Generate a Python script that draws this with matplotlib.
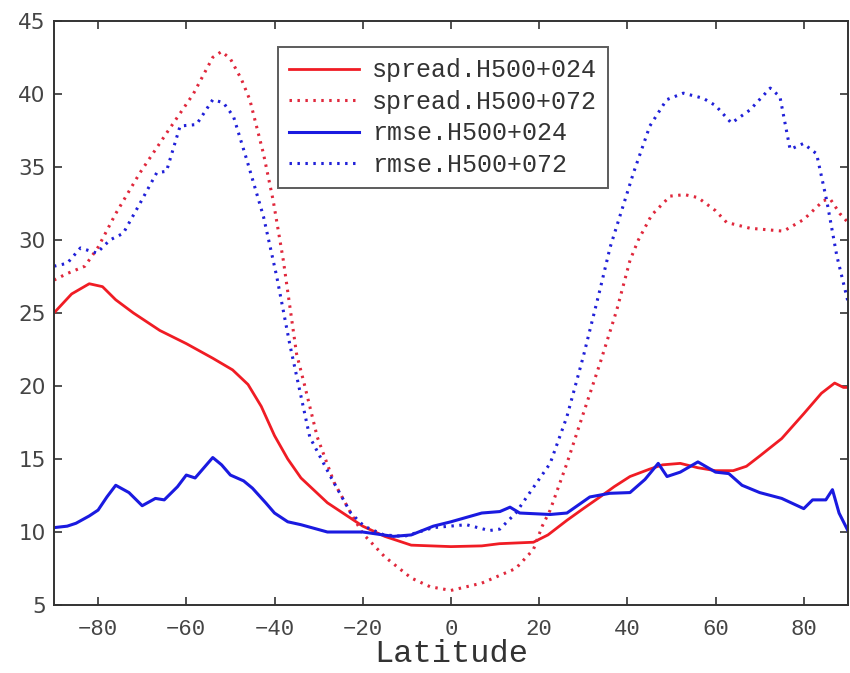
import matplotlib
matplotlib.use("Agg")
import matplotlib.pyplot as plt

# spread.H500+024 (red solid)
lat_s024 = [-90, -86, -82, -79, -76, -72, -66, -60, -54, -49.5, -46, -43, -40, -37, -34,
            -28, -20, -15, -9, 0, 7, 11, 18.7, 22, 26.3, 30, 33.8, 37, 40.6, 45, 48, 52,
            56, 60, 64, 67, 70, 75, 80, 84, 87, 89, 90]
spread024 = [25.0, 26.3, 27.0, 26.8, 25.9, 25.0, 23.8, 22.9, 21.9, 21.1, 20.1, 18.6, 16.6, 15.0, 13.7,
             12.0, 10.4, 9.7, 9.1, 9.0, 9.05, 9.2, 9.3, 9.8, 10.8, 11.6, 12.4, 13.1, 13.8, 14.3, 14.6, 14.7,
             14.4, 14.2, 14.2, 14.5, 15.2, 16.4, 18.1, 19.5, 20.2, 19.9, 19.9]

# spread.H500+072 (red dotted)
lat_s072 = [-90, -87, -83, -80, -76, -70.5, -64.5, -58.4, -54, -52, -50, -47.5, -45.6, -42.5,
            -40.3, -38, -35, -33.3, -30.3, -26.5, -22.7, -20, -15, -9, -4.7, 0, 7, 14.7,
            18.7, 20.7, 22.5, 26.3, 30, 33.8, 37.6, 40.6, 42.5, 45.5, 49.7, 53, 56, 60,
            62.5, 67.8, 75.4, 80, 84.5, 86, 88.2, 90]
spread072 = [27.25, 27.7, 28.2, 29.5, 31.8, 34.6, 37.3, 40.0, 42.5, 42.9, 42.4, 41.0, 39.6, 35.9,
             32.7, 28.6, 22.2, 20.2, 16.5, 13.4, 11.3, 9.9, 8.3, 6.85, 6.25, 6.0, 6.5, 7.5,
             8.8, 10.4, 11.5, 14.7, 18.1, 21.55, 25.2, 28.6, 30.0, 31.7, 33.0, 33.1, 32.9, 32.0,
             31.2, 30.8, 30.6, 31.4, 32.7, 32.8, 31.8, 31.2]

# rmse.H500+024 (blue solid)
lat_r024 = [-90, -87, -85, -82, -80, -78, -76, -73, -70, -67, -65, -62, -60, -58, -56, -54,
            -52, -50, -47, -45, -42, -40, -37, -34, -28, -20, -13, -9, -4, 0, 7, 11.1,
            13.4, 15.6, 22.5, 26.3, 31.5, 36, 40.6, 44, 47, 49, 52, 56, 60, 63, 66, 70,
            75, 80, 82, 85, 86.5, 88, 90]
rmse024 = [10.3, 10.4, 10.6, 11.1, 11.5, 12.4, 13.2, 12.7, 11.8, 12.3, 12.2, 13.1, 13.9, 13.7, 14.4, 15.1,
           14.6, 13.9, 13.5, 13.0, 12.0, 11.3, 10.7, 10.5, 10.0, 10.0, 9.7, 9.8, 10.4, 10.7, 11.3, 11.4,
           11.7, 11.3, 11.2, 11.3, 12.4, 12.65, 12.7, 13.6, 14.7, 13.8, 14.1, 14.8, 14.1, 14.0, 13.2, 12.7,
           12.3, 11.6, 12.2, 12.2, 12.9, 11.3, 10.1]

# rmse.H500+072 (blue dotted)
lat_r072 = [-90, -87, -84, -80.3, -77.3, -74.3, -70.5, -66.7, -64.5, -61.4, -57.7, -54, -51.6,
            -49.3, -46.3, -42.5, -39.5, -36.5, -32, -27.3, -22.7, -19.7, -15.2, -10.6, -4,
            3.5, 8.7, 11.1, 14.7, 17.2, 22.5, 26.3, 30, 33.8, 36.1, 41.4, 45.1, 48.9, 52.7,
            57.2, 60, 63.6, 67.8, 72.4, 74.6, 76.9, 79.9, 82.9, 85.2, 87.5, 90]
rmse072 = [28.2, 28.4, 29.45, 29.1, 30.0, 30.45, 32.5, 34.6, 34.7, 37.8, 37.9, 39.6, 39.4,
           38.45, 35.5, 31.6, 27.5, 22.8, 16.5, 13.8, 11.3, 10.4, 9.8, 9.7, 10.3,
           10.5, 10.1, 10.2, 11.3, 12.4, 14.7, 17.9, 22.0, 26.6, 29.5, 34.6, 37.8, 39.6, 40.05,
           39.7, 39.2, 38.0, 38.9, 40.4, 39.8, 36.2, 36.6, 35.9, 32.7, 28.9, 25.8]

RED = '#f01c24'
RED_DOT = '#e0283c'
BLUE = '#1a1ae0'
BLUE_DOT = '#2020d8'
mono = 'Liberation Mono'

fig = plt.figure(figsize=(8.5, 6.73), dpi=100)
ax = fig.add_axes([0.0635, 0.101, 0.934, 0.868])

ax.plot(lat_s024, spread024, color=RED, lw=2.0, label='spread.H500+024')
ax.plot(lat_s072, spread072, color=RED_DOT, lw=2.2, linestyle=(0, (0.8, 1.8)),
        label='spread.H500+072')
ax.plot(lat_r024, rmse024, color=BLUE, lw=2.2, label='rmse.H500+024')
ax.plot(lat_r072, rmse072, color=BLUE_DOT, lw=2.2, linestyle=(0, (0.8, 1.8)),
        label='rmse.H500+072')

ax.set_xlim(-90, 90)
ax.set_ylim(5, 45)
ax.set_xticks(range(-80, 81, 20))
ax.set_yticks(range(5, 46, 5))
ax.tick_params(direction='in', top=True, right=True, length=6, width=1.2,
               colors='#333333', labelcolor='#444444')
ax.tick_params(axis='x', pad=10)
ax.tick_params(axis='y', pad=6)
for lab in ax.get_xticklabels():
    lab.set_fontfamily(mono)
    lab.set_fontsize(16)
for lab in ax.get_yticklabels():
    lab.set_fontfamily('DejaVu Sans')
    lab.set_fontsize(15.5)
for sp in ax.spines.values():
    sp.set_color('#333333')
    sp.set_linewidth(1.4)

ax.set_xlabel('Latitude', fontfamily=mono, fontsize=23, color='#333333', labelpad=-1)

leg = ax.legend(loc='upper left', bbox_to_anchor=(0.282, 0.955), prop={'family': mono, 'size': 18},
                frameon=True, fancybox=False, handlelength=2.8, borderpad=0.45, labelspacing=0.3,
                handletextpad=0.5, borderaxespad=0)
leg.get_frame().set_edgecolor('#333333')
leg.get_frame().set_linewidth(1.4)
for t in leg.get_texts():
    t.set_color('#333333')

fig.savefig('out.png', dpi=100)
